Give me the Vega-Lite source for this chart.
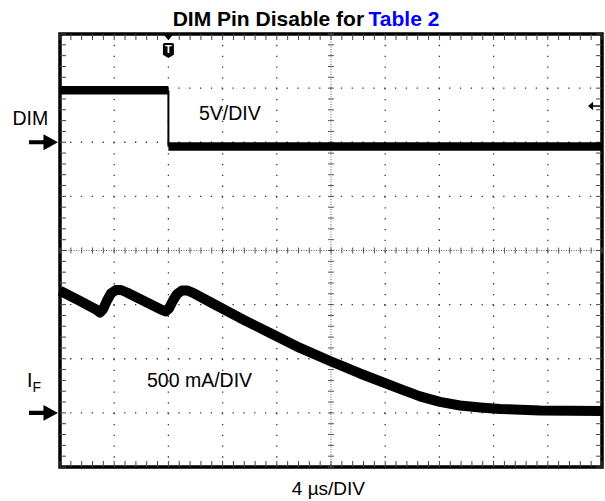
{
  "$schema": "https://vega.github.io/schema/vega-lite/v6.json",
  "width": 542,
  "height": 433,
  "autosize": {"type": "none"},
  "padding": {"left": 60, "top": 34, "right": 3, "bottom": 34},
  "background": "white",
  "config": {
    "view": {"stroke": "black", "strokeWidth": 3.5},
    "font": "Liberation Sans"
  },
  "datasets": {
    "iF": [
      {"t": -8, "A": 1.128}, {"t": -6.52, "A": 1.034}, {"t": -5.34, "A": 0.955}, {"t": -5.05, "A": 0.927},
      {"t": -4.83, "A": 0.955}, {"t": -4.53, "A": 1.038}, {"t": -4.24, "A": 1.103}, {"t": -3.87, "A": 1.135},
      {"t": -3.5, "A": 1.135}, {"t": -3.06, "A": 1.112}, {"t": -2.1, "A": 1.052}, {"t": -0.99, "A": 0.983},
      {"t": -0.47, "A": 0.951}, {"t": -0.21, "A": 0.937}, {"t": 0.04, "A": 0.964}, {"t": 0.34, "A": 1.038},
      {"t": 0.64, "A": 1.098}, {"t": 1.0, "A": 1.131}, {"t": 1.37, "A": 1.131}, {"t": 1.82, "A": 1.108},
      {"t": 3.07, "A": 1.024}, {"t": 5.28, "A": 0.877}, {"t": 7.5, "A": 0.738}, {"t": 9.71, "A": 0.6},
      {"t": 11.93, "A": 0.479}, {"t": 14.14, "A": 0.364}, {"t": 17.09, "A": 0.221}, {"t": 18.57, "A": 0.152},
      {"t": 20.04, "A": 0.101}, {"t": 21.52, "A": 0.068}, {"t": 23, "A": 0.05}, {"t": 24.47, "A": 0.036},
      {"t": 27.42, "A": 0.022}, {"t": 32, "A": 0.018}
    ],
    "dim": [
      {"t": -8, "V": 4.8, "level": "high"}, {"t": 0, "V": 4.8, "level": "high"},
      {"t": 0, "V": -0.4, "level": "low"}, {"t": 32, "V": -0.4, "level": "low"}
    ],
    "vgrid": [{"t": -4}, {"t": 0}, {"t": 4}, {"t": 8}, {"t": 16}, {"t": 20}, {"t": 24}, {"t": 28}],
    "hgrid": [{"div": -3}, {"div": -2}, {"div": -1}, {"div": 1}, {"div": 2}, {"div": 3}],
    "center": [{"t": 12, "div": 0}],
    "hticks": [
      {"t": -8}, {"t": -7.2}, {"t": -6.4}, {"t": -5.6}, {"t": -4.8}, {"t": -4}, {"t": -3.2}, {"t": -2.4}, {"t": -1.6}, {"t": -0.8},
      {"t": 0}, {"t": 0.8}, {"t": 1.6}, {"t": 2.4}, {"t": 3.2}, {"t": 4}, {"t": 4.8}, {"t": 5.6}, {"t": 6.4}, {"t": 7.2},
      {"t": 8}, {"t": 8.8}, {"t": 9.6}, {"t": 10.4}, {"t": 11.2}, {"t": 12}, {"t": 12.8}, {"t": 13.6}, {"t": 14.4}, {"t": 15.2},
      {"t": 16}, {"t": 16.8}, {"t": 17.6}, {"t": 18.4}, {"t": 19.2}, {"t": 20}, {"t": 20.8}, {"t": 21.6}, {"t": 22.4}, {"t": 23.2},
      {"t": 24}, {"t": 24.8}, {"t": 25.6}, {"t": 26.4}, {"t": 27.2}, {"t": 28}, {"t": 28.8}, {"t": 29.6}, {"t": 30.4}, {"t": 31.2}, {"t": 32}
    ],
    "vticks": [
      {"div": -4}, {"div": -3.8}, {"div": -3.6}, {"div": -3.4}, {"div": -3.2}, {"div": -3}, {"div": -2.8}, {"div": -2.6}, {"div": -2.4}, {"div": -2.2},
      {"div": -2}, {"div": -1.8}, {"div": -1.6}, {"div": -1.4}, {"div": -1.2}, {"div": -1}, {"div": -0.8}, {"div": -0.6}, {"div": -0.4}, {"div": -0.2},
      {"div": 0}, {"div": 0.2}, {"div": 0.4}, {"div": 0.6}, {"div": 0.8}, {"div": 1}, {"div": 1.2}, {"div": 1.4}, {"div": 1.6}, {"div": 1.8},
      {"div": 2}, {"div": 2.2}, {"div": 2.4}, {"div": 2.6}, {"div": 2.8}, {"div": 3}, {"div": 3.2}, {"div": 3.4}, {"div": 3.6}, {"div": 3.8}, {"div": 4}
    ],
    "notes": [
      {"kind": "title", "text": "DIM Pin Disable for", "t": 14.44, "div": 4.148},
      {"kind": "titleLink", "text": "Table 2", "t": 14.77, "div": 4.148},
      {"kind": "label", "text": "5V/DIV", "t": 2.26, "div": 2.411},
      {"kind": "label", "text": "500 mA/DIV", "t": -1.58, "div": -2.522},
      {"kind": "label", "text": "DIM", "t": -11.51, "div": 2.319},
      {"kind": "label", "text": "I", "t": -10.44, "div": -2.522},
      {"kind": "subscript", "text": "F", "t": -10.03, "div": -2.614},
      {"kind": "timebase", "text": "4 µs/DIV", "t": 11.81, "div": -4.517}
    ]
  },
  "resolve": {"scale": {"y": "independent"}},
  "layer": [
    {
      "layer": [
        {
          "data": {"name": "vgrid"},
          "mark": {"type": "rule", "color": "#333", "strokeWidth": 1.3, "strokeDash": [1.3, 9.53]},
          "encoding": {
            "x": {"field": "t", "type": "quantitative", "scale": {"domain": [-8, 32], "nice": false, "zero": false}, "axis": null}
          }
        },
        {
          "data": {"name": "hgrid"},
          "mark": {"type": "rule", "color": "#333", "strokeWidth": 1.3, "strokeDash": [1.3, 9.53]},
          "encoding": {
            "y": {"field": "div", "type": "quantitative", "scale": {"domain": [-4, 4], "nice": false, "zero": false}, "axis": null}
          }
        },
        {
          "data": {"name": "center"},
          "mark": {"type": "rule", "color": "#666", "strokeWidth": 1, "strokeDash": [1, 1.5]},
          "encoding": {
            "x": {"field": "t", "type": "quantitative", "scale": {"domain": [-8, 32], "nice": false, "zero": false}, "axis": null}
          }
        },
        {
          "data": {"name": "center"},
          "mark": {"type": "rule", "color": "#666", "strokeWidth": 1, "strokeDash": [1, 1.5]},
          "encoding": {
            "y": {"field": "div", "type": "quantitative", "scale": {"domain": [-4, 4], "nice": false, "zero": false}, "axis": null}
          }
        },
        {
          "data": {"name": "hticks"},
          "mark": {"type": "tick", "orient": "vertical", "size": 6, "thickness": 1, "color": "#555", "opacity": 1},
          "encoding": {
            "x": {"field": "t", "type": "quantitative", "scale": {"domain": [-8, 32], "nice": false, "zero": false}, "axis": null},
            "y": {"datum": 0, "type": "quantitative", "scale": {"domain": [-4, 4], "nice": false, "zero": false}, "axis": null}
          }
        },
        {
          "data": {"name": "vticks"},
          "mark": {"type": "tick", "orient": "horizontal", "size": 6, "thickness": 1, "color": "#555", "opacity": 1},
          "encoding": {
            "x": {"datum": 12, "type": "quantitative", "scale": {"domain": [-8, 32], "nice": false, "zero": false}, "axis": null},
            "y": {"field": "div", "type": "quantitative", "scale": {"domain": [-4, 4], "nice": false, "zero": false}, "axis": null}
          }
        },
        {
          "data": {"name": "hticks"},
          "mark": {"type": "tick", "orient": "vertical", "size": 6, "thickness": 1, "color": "#444", "opacity": 1, "yOffset": 3},
          "encoding": {
            "x": {"field": "t", "type": "quantitative", "scale": {"domain": [-8, 32], "nice": false, "zero": false}, "axis": null},
            "y": {"datum": 4, "type": "quantitative", "scale": {"domain": [-4, 4], "nice": false, "zero": false}, "axis": null}
          }
        },
        {
          "data": {"name": "hticks"},
          "mark": {"type": "tick", "orient": "vertical", "size": 6, "thickness": 1, "color": "#444", "opacity": 1, "yOffset": -3},
          "encoding": {
            "x": {"field": "t", "type": "quantitative", "scale": {"domain": [-8, 32], "nice": false, "zero": false}, "axis": null},
            "y": {"datum": -4, "type": "quantitative", "scale": {"domain": [-4, 4], "nice": false, "zero": false}, "axis": null}
          }
        },
        {
          "data": {"name": "vticks"},
          "mark": {"type": "tick", "orient": "horizontal", "size": 6, "thickness": 1, "color": "#444", "opacity": 1, "xOffset": 3},
          "encoding": {
            "x": {"datum": -8, "type": "quantitative", "scale": {"domain": [-8, 32], "nice": false, "zero": false}, "axis": null},
            "y": {"field": "div", "type": "quantitative", "scale": {"domain": [-4, 4], "nice": false, "zero": false}, "axis": null}
          }
        },
        {
          "data": {"name": "vticks"},
          "mark": {"type": "tick", "orient": "horizontal", "size": 6, "thickness": 1, "color": "#444", "opacity": 1, "xOffset": -3},
          "encoding": {
            "x": {"datum": 32, "type": "quantitative", "scale": {"domain": [-8, 32], "nice": false, "zero": false}, "axis": null},
            "y": {"field": "div", "type": "quantitative", "scale": {"domain": [-4, 4], "nice": false, "zero": false}, "axis": null}
          }
        },
        {
          "data": {"values": [{"t": 0, "div": 3.963}]},
          "mark": {"type": "point", "shape": "M-1,-0.5L1,-0.5L0,0.7Z", "size": 144, "filled": true, "color": "black", "opacity": 1},
          "encoding": {
            "x": {"field": "t", "type": "quantitative", "scale": {"domain": [-8, 32], "nice": false, "zero": false}, "axis": null},
            "y": {"field": "div", "type": "quantitative", "scale": {"domain": [-4, 4], "nice": false, "zero": false}, "axis": null}
          }
        },
        {
          "data": {"values": [{"t": 0, "div": 3.695}]},
          "mark": {"type": "point", "shape": "M-0.73,-0.8Q-0.73,-1,-0.53,-1L0.53,-1Q0.73,-1,0.73,-0.8L0.73,0.55L0,1L-0.73,0.55Z", "size": 225, "filled": true, "color": "black", "opacity": 1},
          "encoding": {
            "x": {"field": "t", "type": "quantitative", "scale": {"domain": [-8, 32], "nice": false, "zero": false}, "axis": null},
            "y": {"field": "div", "type": "quantitative", "scale": {"domain": [-4, 4], "nice": false, "zero": false}, "axis": null}
          }
        },
        {
          "data": {"values": [{"t": 0, "div": 3.713, "text": "T"}]},
          "mark": {"type": "text", "font": "Liberation Sans", "fontWeight": "bold", "fontSize": 11, "color": "white", "align": "center", "baseline": "middle"},
          "encoding": {
            "x": {"field": "t", "type": "quantitative", "scale": {"domain": [-8, 32], "nice": false, "zero": false}, "axis": null},
            "y": {"field": "div", "type": "quantitative", "scale": {"domain": [-4, 4], "nice": false, "zero": false}, "axis": null},
            "text": {"field": "text"}
          }
        },
        {
          "data": {"name": "notes"},
          "transform": [{"filter": "datum.kind === 'title'"}],
          "mark": {"type": "text", "font": "Liberation Sans", "fontWeight": "bold", "fontSize": 21, "color": "black", "align": "right", "baseline": "alphabetic"},
          "encoding": {
            "x": {"field": "t", "type": "quantitative", "scale": {"domain": [-8, 32], "nice": false, "zero": false}, "axis": null},
            "y": {"field": "div", "type": "quantitative", "scale": {"domain": [-4, 4], "nice": false, "zero": false}, "axis": null},
            "text": {"field": "text"}
          }
        },
        {
          "data": {"name": "notes"},
          "transform": [{"filter": "datum.kind === 'titleLink'"}],
          "mark": {"type": "text", "font": "Liberation Sans", "fontWeight": "bold", "fontSize": 21, "color": "#0000ff", "align": "left", "baseline": "alphabetic"},
          "encoding": {
            "x": {"field": "t", "type": "quantitative", "scale": {"domain": [-8, 32], "nice": false, "zero": false}, "axis": null},
            "y": {"field": "div", "type": "quantitative", "scale": {"domain": [-4, 4], "nice": false, "zero": false}, "axis": null},
            "text": {"field": "text"}
          }
        },
        {
          "data": {"name": "notes"},
          "transform": [{"filter": "datum.kind === 'label'"}],
          "mark": {"type": "text", "font": "Liberation Sans", "fontSize": 19.5, "color": "black", "align": "left", "baseline": "alphabetic"},
          "encoding": {
            "x": {"field": "t", "type": "quantitative", "scale": {"domain": [-8, 32], "nice": false, "zero": false}, "axis": null},
            "y": {"field": "div", "type": "quantitative", "scale": {"domain": [-4, 4], "nice": false, "zero": false}, "axis": null},
            "text": {"field": "text"}
          }
        },
        {
          "data": {"name": "notes"},
          "transform": [{"filter": "datum.kind === 'subscript'"}],
          "mark": {"type": "text", "font": "Liberation Sans", "fontSize": 14, "color": "black", "align": "left", "baseline": "alphabetic"},
          "encoding": {
            "x": {"field": "t", "type": "quantitative", "scale": {"domain": [-8, 32], "nice": false, "zero": false}, "axis": null},
            "y": {"field": "div", "type": "quantitative", "scale": {"domain": [-4, 4], "nice": false, "zero": false}, "axis": null},
            "text": {"field": "text"}
          }
        },
        {
          "data": {"name": "notes"},
          "transform": [{"filter": "datum.kind === 'timebase'"}],
          "mark": {"type": "text", "font": "Liberation Sans", "fontSize": 19, "color": "black", "align": "center", "baseline": "alphabetic"},
          "encoding": {
            "x": {"field": "t", "type": "quantitative", "scale": {"domain": [-8, 32], "nice": false, "zero": false}, "axis": null},
            "y": {"field": "div", "type": "quantitative", "scale": {"domain": [-4, 4], "nice": false, "zero": false}, "axis": null},
            "text": {"field": "text"}
          }
        }
      ]
    },
    {
      "layer": [
        {
          "data": {"name": "dim"},
          "mark": {"type": "line", "color": "black", "strokeWidth": 8.5, "strokeCap": "butt"},
          "encoding": {
            "x": {"field": "t", "type": "quantitative", "scale": {"domain": [-8, 32], "nice": false, "zero": false}, "axis": null},
            "y": {"field": "V", "type": "quantitative", "scale": {"domain": [-30, 10], "nice": false, "zero": false}, "axis": null},
            "detail": {"field": "level"}
          }
        },
        {
          "data": {"name": "dim"},
          "transform": [
            {"filter": "datum.t === 0"},
            {"aggregate": [{"op": "max", "field": "V", "as": "Vhi"}, {"op": "min", "field": "V", "as": "Vlo"}], "groupby": ["t"]}
          ],
          "mark": {"type": "rule", "color": "black", "strokeWidth": 2},
          "encoding": {
            "x": {"field": "t", "type": "quantitative", "scale": {"domain": [-8, 32], "nice": false, "zero": false}, "axis": null},
            "y": {"field": "Vhi", "type": "quantitative", "scale": {"domain": [-30, 10], "nice": false, "zero": false}, "axis": null},
            "y2": {"field": "Vlo"}
          }
        },
        {
          "data": {"values": [{"t": -9.22, "V": 0}]},
          "mark": {"type": "point", "shape": "M-1,-0.14L0,-0.14L0,-0.55L1,0L0,0.55L0,0.14L-1,0.14Z", "size": 841, "filled": true, "color": "black", "opacity": 1},
          "encoding": {
            "x": {"field": "t", "type": "quantitative", "scale": {"domain": [-8, 32], "nice": false, "zero": false}, "axis": null},
            "y": {"field": "V", "type": "quantitative", "scale": {"domain": [-30, 10], "nice": false, "zero": false}, "axis": null}
          }
        },
        {
          "data": {"values": [{"t": 31.41, "V": 3.35}]},
          "mark": {"type": "point", "shape": "M-1,0L-0.15,-0.7L-0.15,0.7Z M-0.15,-0.12L1,-0.12L1,0.12L-0.15,0.12Z", "size": 144, "filled": true, "color": "black", "opacity": 1},
          "encoding": {
            "x": {"field": "t", "type": "quantitative", "scale": {"domain": [-8, 32], "nice": false, "zero": false}, "axis": null},
            "y": {"field": "V", "type": "quantitative", "scale": {"domain": [-30, 10], "nice": false, "zero": false}, "axis": null}
          }
        }
      ]
    },
    {
      "layer": [
        {
          "data": {"name": "iF"},
          "mark": {"type": "line", "color": "black", "strokeWidth": 10, "strokeJoin": "round", "strokeCap": "butt"},
          "encoding": {
            "x": {"field": "t", "type": "quantitative", "scale": {"domain": [-8, 32], "nice": false, "zero": false}, "axis": null},
            "y": {"field": "A", "type": "quantitative", "scale": {"domain": [-0.5, 3.5], "nice": false, "zero": false}, "axis": null}
          }
        },
        {
          "data": {"values": [{"t": -9.22, "A": 0}]},
          "mark": {"type": "point", "shape": "M-1,-0.14L0,-0.14L0,-0.55L1,0L0,0.55L0,0.14L-1,0.14Z", "size": 841, "filled": true, "color": "black", "opacity": 1},
          "encoding": {
            "x": {"field": "t", "type": "quantitative", "scale": {"domain": [-8, 32], "nice": false, "zero": false}, "axis": null},
            "y": {"field": "A", "type": "quantitative", "scale": {"domain": [-0.5, 3.5], "nice": false, "zero": false}, "axis": null}
          }
        }
      ]
    }
  ]
}
